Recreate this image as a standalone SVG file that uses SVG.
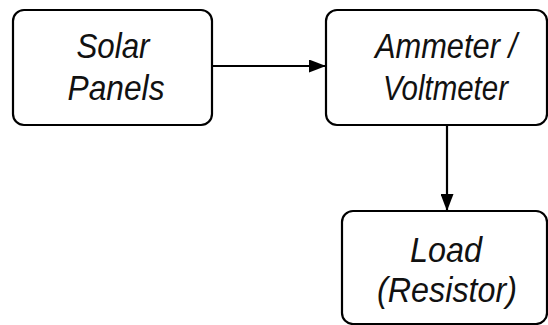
<svg xmlns="http://www.w3.org/2000/svg" width="548" height="325" viewBox="0 0 548 325">
<style>
.box{fill:#fff;stroke:#000;stroke-width:2.2}
.lbl{font-family:"Liberation Sans",Arial,sans-serif;font-style:italic;font-size:35px;fill:#111;text-anchor:middle}
.edge{stroke:#000;stroke-width:2.2;fill:none}
</style>
<defs>
<marker id="arr" viewBox="0 0 17 13" refX="17" refY="6.5" markerWidth="17" markerHeight="13" markerUnits="userSpaceOnUse" orient="auto">
<path d="M0,0 L17,6.5 L0,13 Z" fill="#000"/>
</marker>
</defs>
<rect width="548" height="325" fill="#fff"/>
<g id="solar">
<rect class="box" x="13" y="10" width="199" height="115" rx="11"/>
<text class="lbl" x="113" y="58" textLength="73" lengthAdjust="spacingAndGlyphs">Solar</text>
<text class="lbl" x="116" y="100" textLength="97" lengthAdjust="spacingAndGlyphs">Panels</text>
</g>
<g id="meter">
<rect class="box" x="326" y="10" width="221" height="115" rx="11"/>
<text class="lbl" x="446" y="58" textLength="142" lengthAdjust="spacingAndGlyphs">Ammeter /</text>
<text class="lbl" x="445.5" y="100" textLength="125" lengthAdjust="spacingAndGlyphs">Voltmeter</text>
</g>
<g id="load">
<rect class="box" x="342" y="211" width="205" height="113" rx="11"/>
<text class="lbl" x="446" y="262" textLength="72" lengthAdjust="spacingAndGlyphs">Load</text>
<text class="lbl" x="447" y="302" textLength="140" lengthAdjust="spacingAndGlyphs">(Resistor)</text>
</g>
<g id="connectors">
<line class="edge" x1="212" y1="66" x2="326" y2="66" marker-end="url(#arr)"/>
<line class="edge" x1="447" y1="125" x2="447" y2="211" marker-end="url(#arr)"/>
</g>
</svg>
